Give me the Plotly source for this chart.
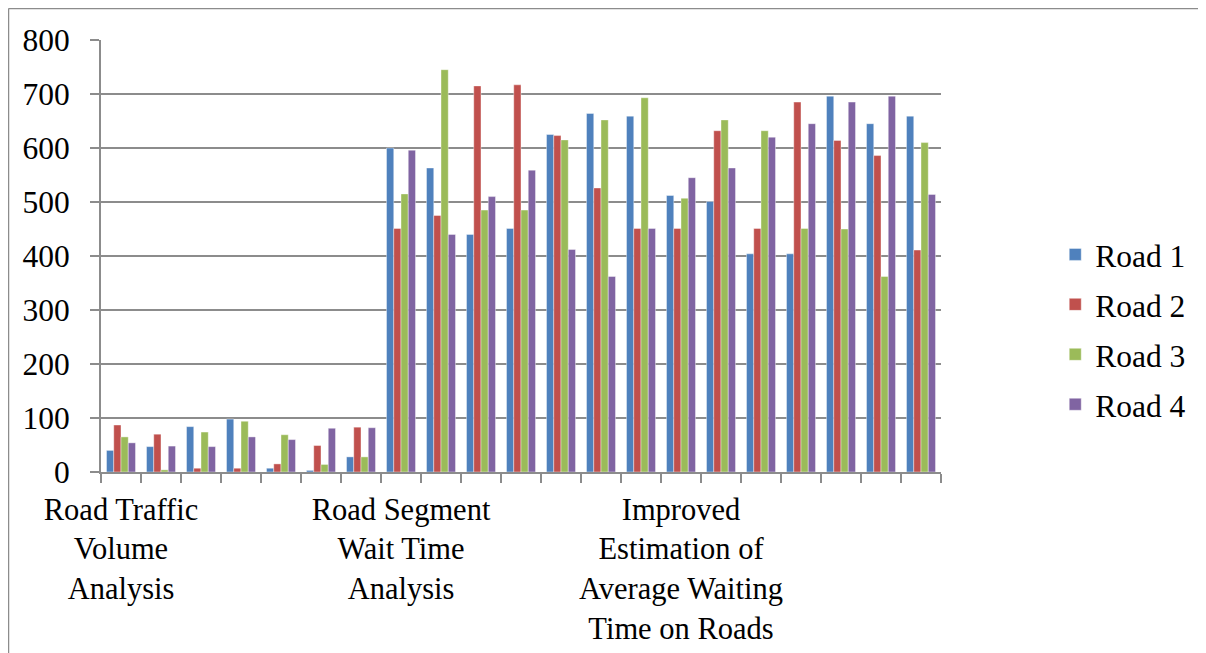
import plotly.graph_objects as go

# ---- data ----
group_index = list(range(1, 22))  # 21 categories
tick_labels = {
    1: "Road Traffic<br>Volume<br>Analysis",
    8: "Road Segment<br>Wait Time<br>Analysis",
    15: "Improved<br>Estimation of<br>Average Waiting<br>Time on Roads",
}
series_names = ["Road 1", "Road 2", "Road 3", "Road 4"]
road1 = [40, 47, 84, 98, 7, 3, 28, 600, 563, 440, 451, 625, 664, 659, 512, 501, 404, 404, 696, 645, 659]
road2 = [87, 70, 7, 7, 15, 49, 83, 451, 475, 715, 717, 623, 526, 451, 451, 632, 451, 685, 614, 586, 411]
road3 = [65, 4, 74, 94, 69, 14, 28, 515, 745, 485, 485, 615, 652, 693, 507, 652, 632, 451, 450, 362, 610]
road4 = [54, 48, 47, 65, 60, 81, 82, 596, 440, 510, 559, 412, 362, 451, 545, 563, 620, 645, 685, 696, 514]
colors = ["#4F81BD", "#C0504D", "#9BBB59", "#8064A2"]

FONT = "'Liberation Serif', 'Times New Roman', 'DejaVu Serif', serif"
FS = 31.5
GRID = "#8C8C8C"

fig = go.Figure()
for name, vals, col in zip(series_names, [road1, road2, road3, road4], colors):
    fig.add_trace(go.Bar(
        x=group_index, y=vals, name=name, legendgroup=name,
        marker=dict(color=col, line=dict(color="rgba(255,255,255,0.5)", width=0.8)),
    ))

# page has an 8px body margin; figure sized to fit the window
W, H = 1198, 645
L, R, T, B = 93, 265, 32, 181
pw, ph = W - L - R, H - T - B

def px_x(x):
    return (x - L) / pw

def px_y(y):
    return (H - B - y) / ph

fig.update_layout(
    width=W, height=H,
    margin=dict(l=L, r=R, t=T, b=B, pad=0, autoexpand=False),
    paper_bgcolor="white", plot_bgcolor="white",
    barmode="group", bargap=0.275, bargroupgap=0,
    font=dict(family=FONT, size=FS, color="black"),
    showlegend=True,
    legend=dict(
        x=1.136, y=0.33, xanchor="left", yanchor="middle",
        font=dict(family=FONT, size=FS, color="black"),
        traceorder="grouped", tracegroupgap=6,
        bgcolor="rgba(0,0,0,0)",
    ),
    xaxis=dict(
        range=[0.5, 21.5],
        automargin=False,
        tickmode="array",
        tickvals=list(tick_labels.keys()),
        ticktext=list(tick_labels.values()),
        ticks="", ticklen=0,
        showgrid=False, zeroline=False,
        showline=True, linecolor=GRID, linewidth=2,
        tickfont=dict(family=FONT, size=30.5, color="black"),
        ticklabelstandoff=9,
        minor=dict(
            tickmode="array",
            tickvals=[i + 0.5 for i in range(0, 22)],
            ticks="outside", ticklen=9, tickcolor=GRID, tickwidth=2,
            showgrid=False,
        ),
        fixedrange=True,
    ),
    yaxis=dict(
        range=[0, 800], dtick=100, tick0=0,
        automargin=False,
        showgrid=True, gridcolor=GRID, gridwidth=2,
        zeroline=False,
        showline=True, linecolor=GRID, linewidth=2,
        ticks="outside", ticklen=9, tickcolor=GRID, tickwidth=2,
        tickfont=dict(family=FONT, size=FS, color="black"),
        ticklabelstandoff=14,
        fixedrange=True,
    ),
    shapes=[
        dict(type="line", xref="paper", yref="paper",
             x0=px_x(0.5), x1=px_x(1210), y0=px_y(0.5), y1=px_y(0.5),
             line=dict(color=GRID, width=1.5)),
        dict(type="line", xref="paper", yref="paper",
             x0=px_x(0.5), x1=px_x(0.5), y0=px_y(0.5), y1=px_y(660),
             line=dict(color=GRID, width=1.5)),
    ],
)

fig.write_html("out.html")
